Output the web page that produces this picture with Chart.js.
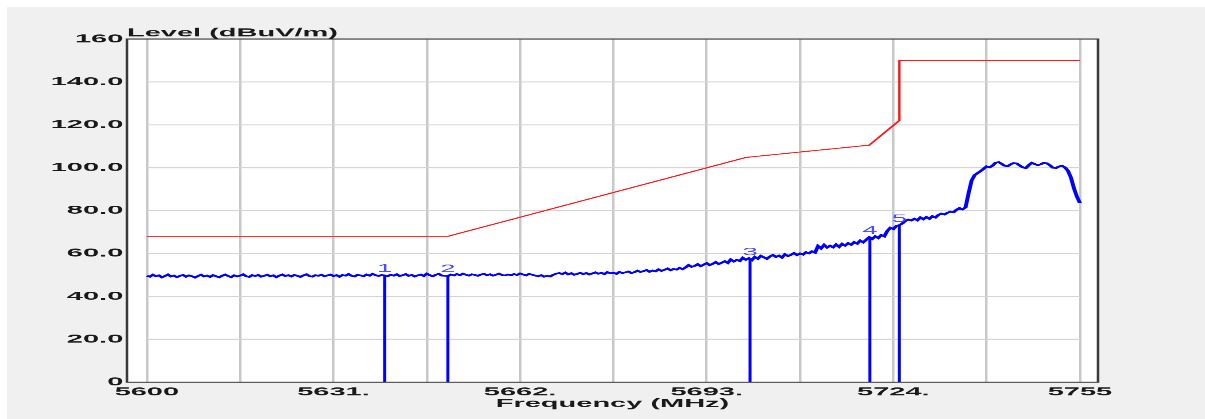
<!DOCTYPE html>
<html>
<head>
<meta charset="utf-8">
<title>Level vs Frequency</title>
<script src="https://cdn.jsdelivr.net/npm/chart.js@4.4.1/dist/chart.umd.min.js"></script>
<style>
  html, body { margin: 0; padding: 0; background: #fff; width: 1205px; height: 419px; overflow: hidden; }
  #panel { position: absolute; left: 7px; top: 7px; width: 1198px; height: 412px; background: #f0f0f0; }
  /* the source picture is stretched sideways, so draw narrow and stretch it */
  #wrap { position: absolute; left: 0; top: 0; width: 482px; height: 419px; transform: scaleX(2.5); transform-origin: 0 0; }
</style>
</head>
<body>
<div id="panel"></div>
<div id="wrap"><canvas id="chart"></canvas></div>
<script>
// Sweep: 5600 .. 5755 MHz, one reading every 0.5 MHz
const freqStart = 5600;
const freqStep = 0.5;
const traceLevels = [
    49.6,49.2,50.1,49.4,49.8,48.9,49.5,50.2,49.3,49.7,49.0,49.6,50.0,49.2,49.8,49.4,48.8,49.5,50.1,49.3,
    49.7,49.1,49.9,49.4,48.9,49.6,50.2,49.5,49.0,49.8,49.3,49.7,50.3,49.4,49.1,49.9,49.5,50.0,49.2,49.6,
    50.1,49.4,49.8,49.0,49.7,50.2,49.5,49.9,49.3,50.0,49.6,49.1,49.8,50.3,49.5,49.2,49.9,49.6,50.1,49.4,
    49.8,50.2,49.5,49.9,49.2,50.0,49.7,50.4,49.6,49.3,50.1,49.8,49.4,50.2,49.7,50.5,49.9,49.5,50.0,49.8,
    49.4,50.1,49.7,50.3,49.5,49.9,50.4,49.6,50.0,49.3,49.8,50.2,49.5,50.6,49.9,49.4,50.1,50.5,49.7,49.6,
    49.5,50.2,49.8,50.4,49.9,50.6,50.1,49.7,50.3,50.0,49.6,50.2,50.5,49.9,50.3,49.7,50.1,50.6,50.0,49.8,
    50.2,49.9,50.4,50.0,50.7,50.2,49.8,50.5,50.1,49.7,49.4,49.9,49.2,49.6,49.3,50.1,50.6,50.9,50.4,51.1,
    50.3,50.8,50.1,50.5,51.0,50.4,50.9,50.2,50.7,51.2,50.6,51.0,50.4,51.3,50.8,51.1,50.5,51.4,50.9,51.2,
    51.6,50.9,51.3,52.0,51.4,51.8,52.3,51.5,52.1,51.7,52.6,51.9,52.4,53.0,52.2,52.8,52.5,53.3,52.7,53.5,
    54.6,53.8,54.2,55.0,54.1,54.8,55.5,54.6,55.2,56.0,55.1,55.7,56.4,55.6,57.2,56.3,57.0,56.5,58.0,57.1,
    57.8,56.9,58.4,57.6,58.9,58.2,57.5,58.6,59.3,58.4,59.0,58.1,59.6,58.8,59.4,60.2,59.3,60.0,59.5,60.6,
    60.1,61.0,60.4,63.5,62.4,64.0,62.8,63.6,62.9,64.2,63.1,64.5,63.7,64.8,64.1,65.3,64.6,66.0,65.2,66.4,
    67.6,66.8,68.0,67.2,68.6,68.0,70.5,72.0,71.4,72.8,73.2,74.0,75.2,75.8,75.4,76.2,75.5,76.8,76.0,77.0,
    76.2,77.4,76.8,78.0,78.6,78.2,79.0,79.5,79.2,80.4,81.2,80.6,81.5,88.0,94.0,96.5,97.5,98.4,99.5,100.6,
    100.2,101.0,102.4,102.6,101.8,100.9,100.7,101.6,102.2,102.0,101.0,100.2,99.8,101.2,102.3,101.7,101.2,101.6,102.3,102.1,
    101.2,100.0,99.8,100.6,100.9,100.2,98.6,95.5,90.5,86.5,83.5
];

// Limit line (red)
const limitFreqs = [5600, 5650, 5699.5, 5720, 5725, 5725, 5755];
const limitLevels = [68, 68, 104.8, 110.5, 122, 150, 150];

// Markers
const markerNames = ['1', '2', '3', '4', '5'];
const markerFreqs = [5639.5, 5650, 5700.2, 5720.1, 5725];
const markerLevels = [49.8, 49.6, 57.5, 67.6, 73.0];

// Axes
const xTicks = [5600, 5615.5, 5631, 5646.5, 5662, 5677.5, 5693, 5708.5, 5724, 5739.5, 5755];
const xTickLabels = ['5600', '', '5631.', '', '5662.', '', '5693.', '', '5724.', '', '5755'];
const yTicks = [0, 20, 40, 60, 80, 100, 120, 140, 160];
const yTickLabels = ['0', '20.0', '40.0', '60.0', '80.0', '100.0', '120.0', '140.0', '160'];

const FONT_FAMILY = "'Liberation Sans', Arial, sans-serif";
const FONT_SIZE = 11.6;
const TEXT_COLOR = '#1a1a1a';
const TRACE_COLOR = '#0000ff';
const LIMIT_COLOR = '#ff1a1a';
const MARKER_TEXT = '#4b4bff';

const tracePoints = traceLevels.map((v, i) => ({ x: freqStart + i * freqStep, y: v }));
const limitPoints = limitFreqs.map((f, i) => ({ x: f, y: limitLevels[i] }));

const markerSets = markerFreqs.map((f, i) => ({
    label: 'M' + markerNames[i],
    data: [{ x: f, y: 0 }, { x: f, y: markerLevels[i] }],
    borderColor: TRACE_COLOR,
    borderWidth: 1.2
}));

// frame, short horizontal grid, marker numbers, axis titles
const decor = {
    id: 'decor',
    beforeDraw(chart) {
        const { ctx, chartArea: a } = chart;
        ctx.save();
        ctx.fillStyle = '#ffffff';
        ctx.fillRect(a.left, a.top, a.right - a.left, a.bottom - a.top);
        ctx.restore();
    },
    beforeDatasetsDraw(chart) {
        const { ctx, scales: { x, y } } = chart;
        const x0 = x.getPixelForValue(xTicks[0]);
        const x1 = x.getPixelForValue(xTicks[xTicks.length - 1]);
        ctx.save();
        ctx.strokeStyle = '#d4d4d4';
        ctx.lineWidth = 1;
        yTicks.slice(1, -1).forEach(v => {
            const py = y.getPixelForValue(v);
            ctx.beginPath();
            ctx.moveTo(x0, py);
            ctx.lineTo(x1, py);
            ctx.stroke();
        });
        ctx.restore();
    },
    afterDatasetsDraw(chart) {
        const { ctx, chartArea: a, scales: { x, y } } = chart;
        ctx.save();
        ctx.strokeStyle = '#3a3a3a';
        ctx.lineWidth = 1;
        ctx.strokeRect(a.left, a.top, a.right - a.left, a.bottom - a.top);

        ctx.fillStyle = MARKER_TEXT;
        ctx.font = '11px ' + FONT_FAMILY;
        ctx.textAlign = 'center';
        ctx.textBaseline = 'alphabetic';
        markerNames.forEach((n, i) => {
            ctx.fillText(n, x.getPixelForValue(markerFreqs[i]), y.getPixelForValue(markerLevels[i]) - 3.5);
        });

        ctx.fillStyle = TEXT_COLOR;
        ctx.font = 'bold ' + FONT_SIZE + 'px ' + FONT_FAMILY;
        ctx.textAlign = 'left';
        ctx.fillText('Level (dBuV/m)', a.left, a.top - 2.8);
        ctx.textAlign = 'center';
        ctx.fillText('Frequency (MHz)', (a.left + a.right) / 2, a.bottom + 24.7);
        ctx.restore();
    }
};

new Chart(document.getElementById('chart'), {
    type: 'line',
    data: {
        datasets: [
            ...markerSets,
            {
                label: 'Limit',
                data: limitPoints,
                borderColor: LIMIT_COLOR,
                borderWidth: 1
            },
            {
                label: 'Level',
                data: tracePoints,
                borderColor: TRACE_COLOR,
                borderWidth: 1.6
            }
        ]
    },
    options: {
        responsive: true,
        maintainAspectRatio: false,
        devicePixelRatio: 2.5,
        animation: false,
        events: [],
        layout: { padding: { top: 39, right: 42.8, left: 0, bottom: 0 } },
        elements: { point: { radius: 0 }, line: { tension: 0 } },
        scales: {
            x: {
                type: 'linear',
                min: 5596.7,
                max: 5758,
                afterBuildTicks: s => { s.ticks = xTicks.map(v => ({ value: v })); },
                afterFit: s => { s.height = 37; },
                ticks: {
                    autoSkip: false,
                    maxRotation: 0,
                    padding: 3,
                    color: TEXT_COLOR,
                    font: { family: FONT_FAMILY, size: FONT_SIZE, weight: 'bold' },
                    callback: (v, i) => xTickLabels[i]
                },
                grid: { color: '#c8c8c8', lineWidth: 1, drawTicks: false },
                border: { display: false }
            },
            y: {
                type: 'linear',
                min: 0,
                max: 160,
                afterBuildTicks: s => { s.ticks = yTicks.map(v => ({ value: v })); },
                afterFit: s => { s.width = 50.8; },
                ticks: {
                    padding: 1.5,
                    color: TEXT_COLOR,
                    font: { family: FONT_FAMILY, size: FONT_SIZE, weight: 'bold' },
                    callback: (v, i) => yTickLabels[i]
                },
                grid: { display: false, drawTicks: false },
                border: { display: false }
            }
        },
        plugins: {
            legend: { display: false },
            tooltip: { enabled: false }
        }
    },
    plugins: [decor]
});
</script>
</body>
</html>
